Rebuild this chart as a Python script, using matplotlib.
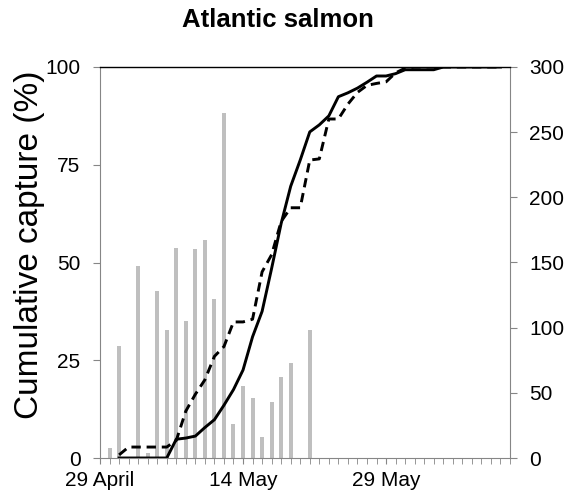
import matplotlib
matplotlib.use('Agg')
import matplotlib.pyplot as plt
from matplotlib.ticker import MultipleLocator, FixedLocator

plt.rcParams['font.family'] = ['Liberation Sans', 'DejaVu Sans']

# ---- data ----
bar_days = [1, 2, 4, 5, 6, 7, 8, 9, 10, 11, 12, 13, 14, 15, 16, 17, 18, 19, 20, 22]
bar_values = [8, 86, 147, 4, 128, 98, 161, 105, 160, 167, 122, 265, 26, 55, 46, 16, 43, 62, 73, 98]

line_days = list(range(2, 43))
solid_pct = [0, 0, 0, 0, 0, 0,
             4.8, 5.1, 5.6, 7.8, 9.8, 13.5, 17.5, 22.5, 31, 37.5, 48.5, 60, 69.5, 76.2,
             83.4, 85.2, 87.5, 92.4, 93.4, 94.6, 96.1, 97.7, 97.7, 98.3, 99.3, 99.3, 99.3,
             99.3, 100, 100, 100, 100, 100, 100, 100]
dashed_pct = [0.8, 2.8, 2.8, 2.8, 2.8, 2.8,
              4.5, 12, 16.3, 20, 26, 28.5, 34.8, 34.8, 35.5, 47.6, 52, 60.5, 64, 64,
              76.2, 76.5, 86.7, 86.7, 90.5, 93.5, 95.3, 95.8, 96.2, 98.5, 99.7,
              100, 100, 100, 100, 100, 100, 100, 100, 100, 100]

x_tick_days = [0, 15, 30]
x_tick_labels = ['29 April', '14 May', '29 May']
left_ticks = [0, 25, 50, 75, 100]
right_ticks = [0, 50, 100, 150, 200, 250, 300]

title = 'Atlantic salmon'
ylabel = 'Cumulative capture (%)'

# ---- figure ----
W, H = 573, 503
fig = plt.figure(figsize=(W / 100, H / 100), dpi=100)
ax = fig.add_axes([100 / W, 1 - 458 / H, 410 / W, 391 / H])
ax2 = ax.twinx()

gray = '#868686'

# bars on secondary axis
ax2.bar(bar_days, bar_values, width=0.42, color='#BFBFBF', zorder=1)
ax2.set_ylim(0, 300)
ax2.set_yticks(right_ticks)

# lines on primary axis, drawn above the bars
ax.set_zorder(ax2.get_zorder() + 1)
ax.patch.set_visible(False)
ax.plot(line_days, solid_pct, color='black', lw=2.1, solid_joinstyle='round')
ax.plot(line_days, dashed_pct, color='black', lw=2.1, linestyle=(0, (3.2, 2.0)))
ax.set_ylim(0, 100)
ax.set_yticks(left_ticks)
ax.set_xlim(0, 43)
ax.xaxis.set_major_locator(FixedLocator(x_tick_days))
ax.set_xticklabels(x_tick_labels)
ax.xaxis.set_minor_locator(MultipleLocator(1))

for a in (ax, ax2):
    for s in a.spines.values():
        s.set_visible(False)

ax.spines['left'].set_visible(True)
ax.spines['left'].set_color(gray)
ax.spines['bottom'].set_visible(True)
ax.spines['bottom'].set_color(gray)
ax.spines['top'].set_visible(True)
ax.spines['top'].set_color('black')
ax.spines['top'].set_linewidth(1.0)
ax2.spines['right'].set_visible(True)
ax2.spines['right'].set_color(gray)

ax.tick_params(axis='y', direction='out', length=5, color=gray, labelsize=15, pad=9)
ax.tick_params(axis='x', which='both', direction='out', length=4, color=gray,
               labelsize=15, pad=5)
ax2.tick_params(axis='y', direction='out', length=5, color=gray, labelsize=15, pad=9)

ax.set_ylabel(ylabel, fontsize=24)
ax.yaxis.set_label_coords(-0.135, 0.545)

fig.text(278 / W, 1 - 20 / H, title, ha='center', va='center',
         fontsize=18.5, fontweight='bold')

fig.savefig('out.png', dpi=100)
